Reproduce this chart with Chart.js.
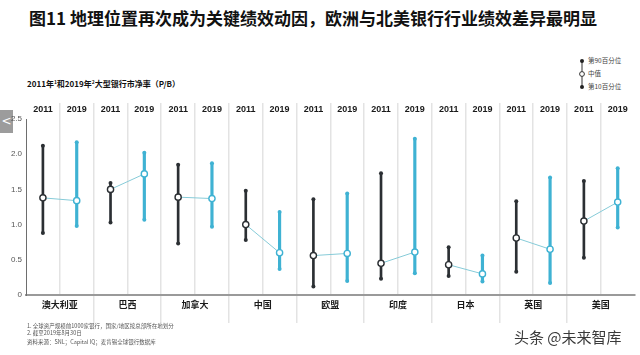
<!DOCTYPE html>
<html>
<head>
<meta charset="utf-8">
<script src="https://cdn.jsdelivr.net/npm/chart.js@4"></script>
<style>
  html, body { margin: 0; padding: 0; background: #fff; }
  body { width: 640px; height: 355px; position: relative; overflow: hidden; font-family: "Noto Sans CJK SC", "Liberation Sans", sans-serif; }
  .abs { position: absolute; white-space: nowrap; }
  #title { left: 29px; top: 7px; font-size: 17px; line-height: 22px; font-weight: 700; color: #111; }
  #subtitle { left: 27px; top: 79px; font-size: 8px; line-height: 10px; font-weight: 700; color: #111; }
  #subtitle sup { font-size: 5px; vertical-align: 3px; line-height: 0; }
  #chartBox { left: 0; top: 100px; width: 640px; height: 225px; }
  .note { left: 27px; font-size: 5.5px; line-height: 7px; color: #555; }
  #back { left: 0; top: 110px; width: 13px; height: 23px; background: #9c9c9c; color: #fff; font-size: 12px; line-height: 22px; text-align: center; font-family: "DejaVu Sans", sans-serif; }
  #wm { left: 514px; top: 328px; font-size: 15px; line-height: 18px; color: #3a3a3a; }
</style>
</head>
<body>
<div id="title" class="abs">图11 地理位置再次成为关键绩效动因，欧洲与北美银行行业绩效差异最明显</div>
<div id="subtitle" class="abs">2011年<sup>1</sup>和2019年<sup>2</sup>大型银行市净率（P/B）</div>
<svg class="abs" style="left:570px;top:54px" width="70" height="40">
  <line x1="12" y1="7" x2="12" y2="33" stroke="#333" stroke-width="1"/>
  <circle cx="12" cy="7" r="2" fill="#222"/>
  <circle cx="12" cy="20" r="2.4" fill="#fff" stroke="#333" stroke-width="1"/>
  <circle cx="12" cy="33" r="2" fill="#222"/>
  <text x="18" y="9.3" font-size="6.5" fill="#444" font-family="Noto Sans CJK SC">第90百分位</text>
  <text x="18" y="22.3" font-size="6.5" fill="#444" font-family="Noto Sans CJK SC">中值</text>
  <text x="18" y="35.3" font-size="6.5" fill="#444" font-family="Noto Sans CJK SC">第10百分位</text>
</svg>
<div id="back" class="abs">&lt;</div>
<div id="chartBox" class="abs"><canvas id="c"></canvas></div>
<div class="abs note" style="top:323px">1. 全球资产规模前1000家银行，国家/地区按总部所在地划分</div>
<div class="abs note" style="top:330px">2. 截至2019年8月30日</div>
<div class="abs note" style="top:339px">资料来源：SNL；Capital IQ；麦肯锡全球银行数据库</div>
<div id="wm" class="abs">头条 @未来智库</div>
<script>
// ---- data ----
const countries = ['澳大利亚','巴西','加拿大','中国','欧盟','印度','日本','英国','美国'];
const years = ['2011','2019'];
const p90_2011    = [2.12, 1.59, 1.85, 1.48, 1.36, 1.73, 0.68, 1.33, 1.62];
const median_2011 = [1.38, 1.50, 1.39, 1.00, 0.56, 0.45, 0.43, 0.81, 1.05];
const p10_2011    = [0.88, 1.03, 0.73, 0.78, 0.12, 0.23, 0.27, 0.33, 0.53];
const p90_2019    = [2.17, 2.02, 1.87, 1.18, 1.44, 2.22, 0.56, 1.67, 1.80];
const median_2019 = [1.34, 1.72, 1.37, 0.60, 0.59, 0.61, 0.30, 0.65, 1.32];
const p10_2019    = [0.98, 1.07, 0.97, 0.37, 0.20, 0.31, 0.19, 0.17, 0.96];
const yTicks = [0, 0.5, 1.0, 1.5, 2.0, 2.5];

// ---- styles ----
const DARK = '#2b2f33';
const CYAN = '#3fb2d3';
const LINK = '#86cbd8';
const GRID = '#e3e3e3';

const N = countries.length * 2;
const colLabels = [];
countries.forEach(() => years.forEach(y => colLabels.push(y)));

function spread(a11, a19) {
  const out = new Array(N).fill(null);
  for (let i = 0; i < countries.length; i++) { out[2*i] = a11[i]; out[2*i+1] = a19[i]; }
  return out;
}
const colColors = colLabels.map((_, i) => i % 2 === 0 ? DARK : CYAN);

const range2011 = new Array(N).fill(null);
const range2019 = new Array(N).fill(null);
for (let i = 0; i < countries.length; i++) {
  range2011[2*i] = [p10_2011[i], p90_2011[i]];
  range2019[2*i+1] = [p10_2019[i], p90_2019[i]];
}

const datasets = [];
// median links (one per country)
for (let i = 0; i < countries.length; i++) {
  const d = new Array(N).fill(null);
  d[2*i] = median_2011[i];
  d[2*i+1] = median_2019[i];
  datasets.push({
    type: 'line', data: d, order: 0, spanGaps: false,
    borderColor: LINK, borderWidth: 1,
    pointRadius: 3.1, pointBackgroundColor: '#fff',
    pointBorderColor: colColors, pointBorderWidth: 1.4
  });
}
// percentile end dots
datasets.push({ type: 'line', data: spread(p90_2011, p90_2019), showLine: false, order: 1,
  pointRadius: 2, pointBackgroundColor: colColors, pointBorderWidth: 0 });
datasets.push({ type: 'line', data: spread(p10_2011, p10_2019), showLine: false, order: 1,
  pointRadius: 2, pointBackgroundColor: colColors, pointBorderWidth: 0 });
// range bars
datasets.push({ type: 'bar', data: range2011, backgroundColor: DARK, barThickness: 2, grouped: false, order: 2 });
datasets.push({ type: 'bar', data: range2019, backgroundColor: CYAN, barThickness: 2.5, grouped: false, order: 2 });

const gridColor = ctx => (ctx.index === undefined || ctx.index === 0) ? 'rgba(0,0,0,0)' : GRID;

new Chart(document.getElementById('c'), {
  data: { labels: colLabels, datasets },
  options: {
    responsive: true, maintainAspectRatio: false, animation: false,
    layout: { padding: { top: 3, right: 3, left: 0, bottom: 0 } },
    plugins: { legend: { display: false }, tooltip: { enabled: false } },
    scales: {
      x: {
        type: 'category', position: 'top', offset: true,
        grid: { offset: true, color: gridColor, lineWidth: 1.5, drawTicks: true, tickLength: 16 },
        border: { display: false },
        ticks: { padding: -12, maxRotation: 0, autoSkip: false, color: '#1a1a1a',
          font: { family: 'Liberation Sans', size: 9, weight: 'bold' } },
        afterFit: s => { s.height = 16; }
      },
      x2: {
        type: 'category', position: 'bottom', labels: countries, offset: true,
        grid: { offset: true, color: gridColor, lineWidth: 1.5, drawOnChartArea: false, drawTicks: true, tickLength: 28 },
        border: { display: true, color: '#9a9a9a', width: 2, dash: [30.94, 3], dashOffset: -1.5 },
        ticks: { padding: -24, maxRotation: 0, autoSkip: false, color: '#1a1a1a',
          font: { family: 'Noto Sans CJK SC', size: 9, weight: 'bold' } },
        afterFit: s => { s.height = 30; }
      },
      y: {
        min: 0, max: 2.5,
        afterBuildTicks: s => { s.ticks = yTicks.map(v => ({ value: v })); },
        grid: { display: false, drawTicks: false },
        border: { display: true, color: '#6e6e6e', width: 1 },
        ticks: { padding: 4, color: '#555', font: { family: 'Liberation Sans', size: 8 },
          callback: v => v === 0 ? '0' : v.toFixed(1) },
        afterFit: s => { s.width = 26; }
      }
    }
  }
});
</script>
</body>
</html>
